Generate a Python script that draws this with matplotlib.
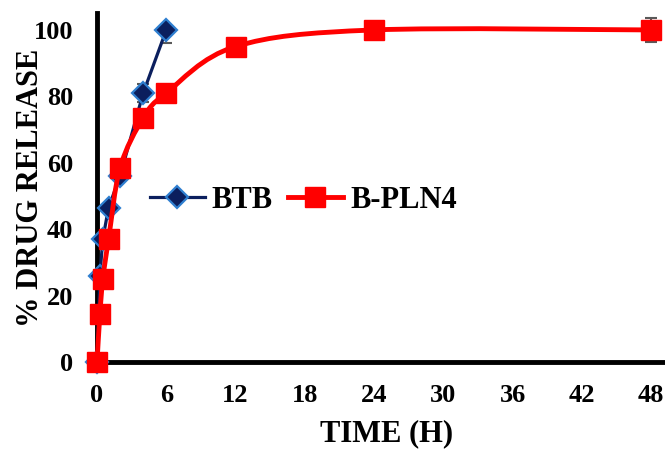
import numpy as np
import matplotlib
matplotlib.use("Agg")
import matplotlib.pyplot as plt
from matplotlib.path import Path
from matplotlib.patches import PathPatch

# release data (% drug release vs time in hours)
btb_time = [0, 0.25, 0.5, 1, 2, 4, 6]
btb_release = [0, 26, 37, 46.5, 56, 81, 100]
btb_err_low = [0, 0, 0, 0, 0, 2.6, 4]
btb_err_high = [0, 0, 0, 0, 0, 2.6, 0]

pln_time = [0, 0.25, 0.5, 1, 2, 4, 6, 12, 24, 48]
pln_release = [0, 14.5, 25, 37, 58.5, 73.5, 81, 95, 100, 100]
pln_err = [0, 0, 0, 0, 0, 0, 0, 0, 0, 3.6]

x_ticks = [0, 6, 12, 18, 24, 30, 36, 42, 48]
y_ticks = [0, 20, 40, 60, 80, 100]

NAVY = "#0b1f5e"
EDGE = "#2f7fd0"
RED = "#ff0000"
GREY = "#595959"

plt.rcParams['font.family'] = ['Liberation Serif', 'DejaVu Serif']
plt.rcParams['font.weight'] = 'bold'


def smooth_path(xs, ys):
    # excel style smoothed line: catmull-rom segments as cubic beziers
    pts = np.column_stack([xs, ys]).astype(float)
    n = len(pts)
    verts = [pts[0]]
    codes = [Path.MOVETO]
    for i in range(n - 1):
        p0 = pts[max(i - 1, 0)]
        p1 = pts[i]
        p2 = pts[i + 1]
        p3 = pts[min(i + 2, n - 1)]
        c1 = p1 + (p2 - p0) / 6.0
        c2 = p2 - (p3 - p1) / 6.0
        verts += [c1, c2, p2]
        codes += [Path.CURVE4] * 3
    return Path(verts, codes)


fig = plt.figure(figsize=(6.65, 4.53), dpi=100)
ax = fig.add_axes([0.1459, 0.2009, 0.8541, 0.7704])

# BTB
ax.errorbar(btb_time, btb_release, yerr=[btb_err_low, btb_err_high], fmt='none',
            ecolor=GREY, elinewidth=1.5, capsize=4.3, capthick=1.5, zorder=2)
ax.plot(btb_time, btb_release, color=NAVY, lw=2.3, marker='D', ms=11.5,
        mfc=NAVY, mec=EDGE, mew=1.6, label='BTB', zorder=3)

# B-PLN4
ax.errorbar(pln_time, pln_release, yerr=pln_err, fmt='none',
            ecolor=GREY, elinewidth=1.5, capsize=4.3, capthick=1.5, zorder=4)
ax.add_patch(PathPatch(smooth_path(pln_time, pln_release), fill=False,
                       edgecolor=RED, lw=3.5, zorder=5, capstyle='round'))
ax.plot(pln_time, pln_release, ls='none', marker='s', ms=14, mfc=RED, mec=RED,
        zorder=6)
# legend proxy for the red series
ax.plot([], [], color=RED, lw=3.5, marker='s', ms=14, mfc=RED, mec=RED,
        label='B-PLN4')

ax.set_xlim(0, 49.2)
ax.set_ylim(0, 105.1)
ax.set_xticks(x_ticks)
ax.set_yticks(y_ticks)
ax.tick_params(length=0, labelsize=19)
ax.tick_params(axis='x', pad=16)
ax.tick_params(axis='y', pad=17)
for lab in ax.get_xticklabels() + ax.get_yticklabels():
    lab.set_fontweight('bold')

for side in ['top', 'right']:
    ax.spines[side].set_visible(False)
for side in ['left', 'bottom']:
    ax.spines[side].set_linewidth(3.5)
    ax.spines[side].set_zorder(1)

ax.set_xlabel('TIME (H)', fontsize=22, fontweight='bold', va='top')
ax.set_ylabel('% DRUG RELEASE', fontsize=22, fontweight='bold')
ax.xaxis.set_label_coords(0.51, -0.165)
ax.yaxis.set_label_coords(-0.092, 0.5)

ax.legend(loc='center left', bbox_to_anchor=(0.093, 0.464), ncol=2,
          frameon=False, handlelength=1.8, handletextpad=0.23,
          columnspacing=0.49, borderaxespad=0, borderpad=0,
          prop={'weight': 'bold', 'size': 22})

for c in ax.get_children():
    if hasattr(c, 'set_clip_on'):
        c.set_clip_on(False)

fig.savefig('out.png', dpi=100)
